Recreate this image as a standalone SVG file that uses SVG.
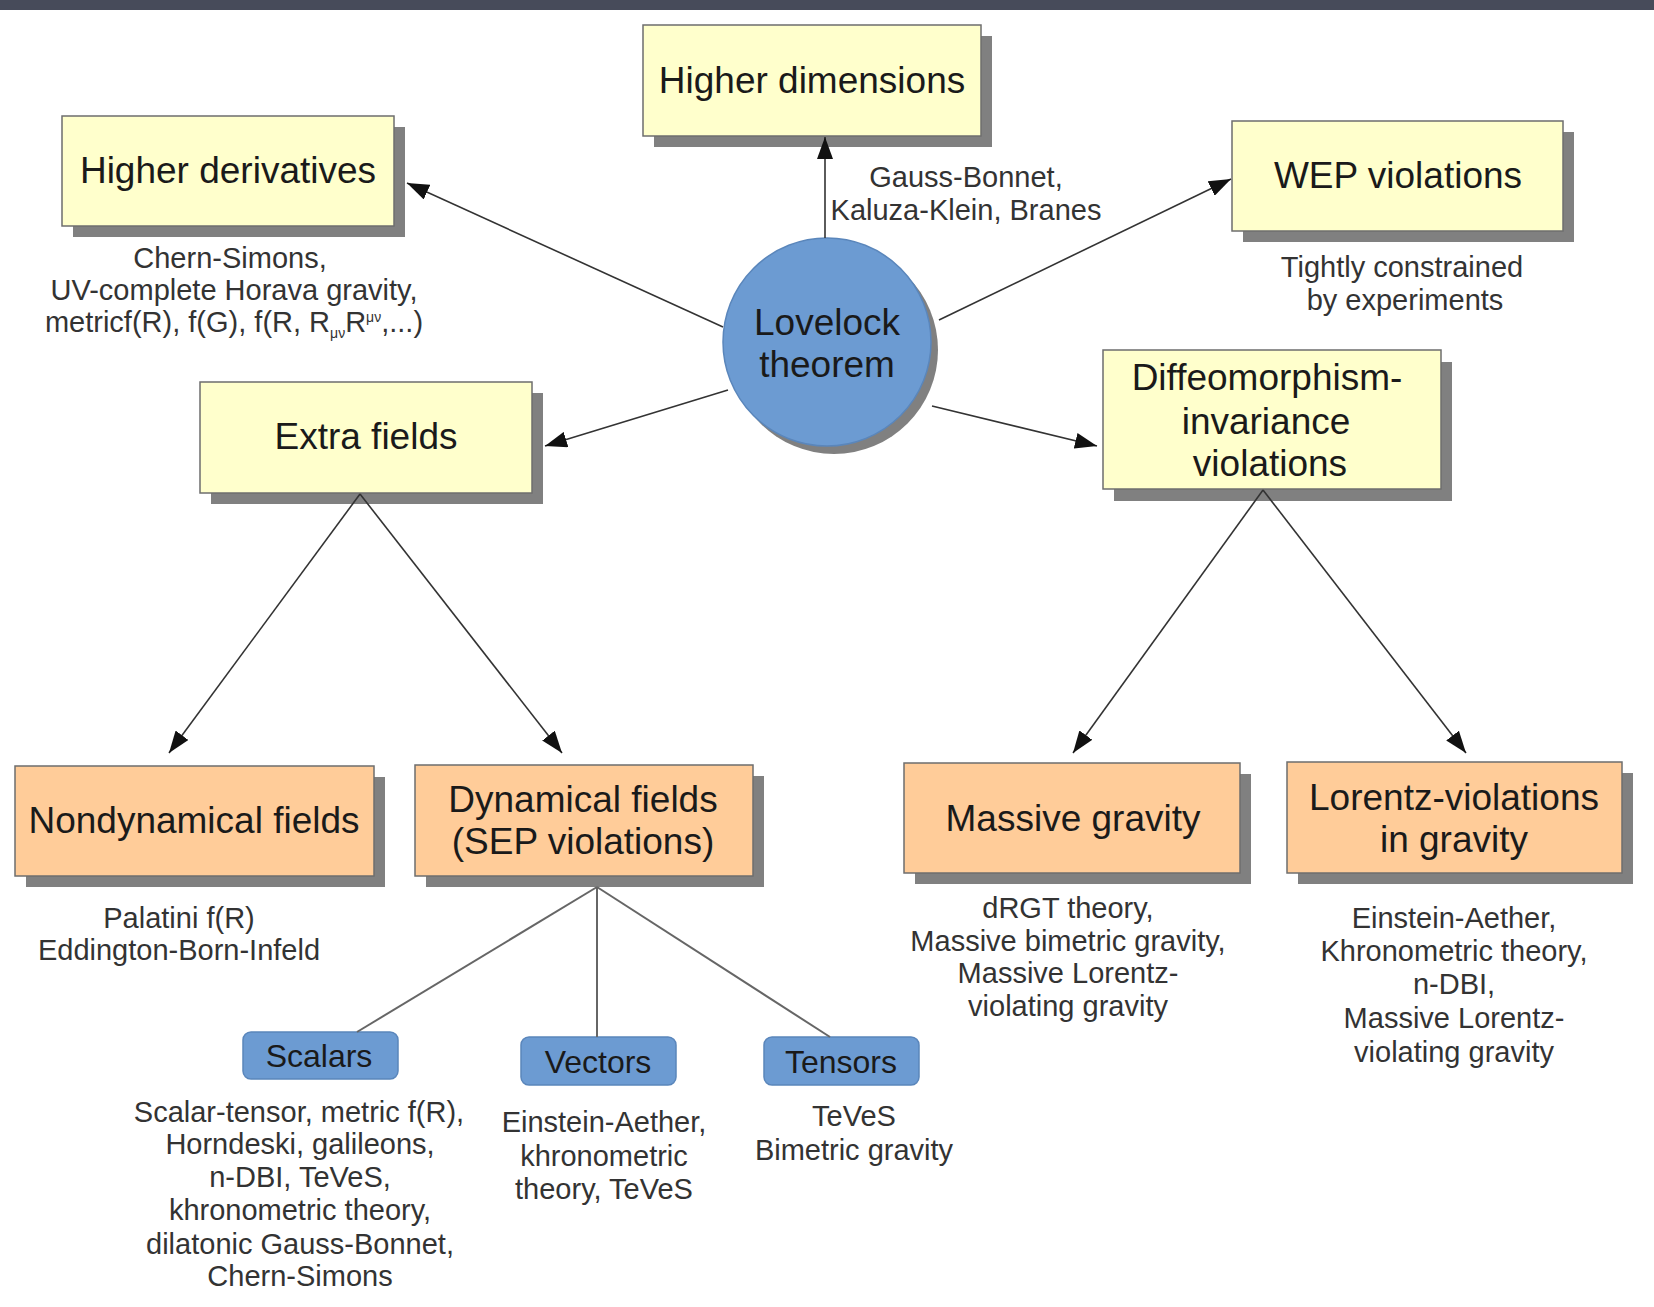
<svg xmlns="http://www.w3.org/2000/svg" width="1654" height="1307" viewBox="0 0 1654 1307">
<defs>
<marker id="arr" markerUnits="userSpaceOnUse" markerWidth="24" markerHeight="16" refX="22" refY="8" orient="auto">
<path d="M0,0 L22,8 L0,16 Z" fill="#111"/>
</marker>
<style>
.shadow{fill:#808080}
.yel{fill:#ffffcc;stroke:#6e6e6e;stroke-width:1.5}
.org{fill:#ffcc99;stroke:#6e6e6e;stroke-width:1.5}
.blu{fill:#6c9bd2;stroke:#5a86bb;stroke-width:1.5}
.lbl{font-family:"Liberation Sans",Arial,sans-serif;font-size:37px;fill:#1a1a1a;text-anchor:middle}
.sm{font-family:"Liberation Sans",Arial,sans-serif;font-size:32px;fill:#1a1a1a;text-anchor:middle}
.sub{font-family:"Liberation Sans",Arial,sans-serif;font-size:29px;fill:#333;text-anchor:middle}
.arrow{stroke:#333;stroke-width:1.6;fill:none;marker-end:url(#arr)}
.plain{stroke:#666;stroke-width:2;fill:none}
</style>
</defs>
<rect x="0" y="0" width="1654" height="1307" fill="#ffffff"/>
<rect x="0" y="0" width="1654" height="10" fill="#474b5a"/>

<g id="lovelock">
<circle cx="834" cy="350" r="104" class="shadow"/>
<circle cx="827" cy="342" r="104" class="blu"/>
<text class="lbl" x="827" y="335">Lovelock</text>
<text class="lbl" x="827" y="377">theorem</text>
</g>

<g id="higher-dimensions">
<rect x="654" y="36" width="338" height="111" class="shadow"/>
<rect x="643" y="25" width="338" height="111" class="yel"/>
<text class="lbl" x="812" y="93">Higher dimensions</text>
<text class="sub" x="966" y="187">Gauss-Bonnet,</text>
<text class="sub" x="966" y="220">Kaluza-Klein, Branes</text>
</g>

<g id="higher-derivatives">
<rect x="73" y="127" width="332" height="110" class="shadow"/>
<rect x="62" y="116" width="332" height="110" class="yel"/>
<text class="lbl" x="228" y="183">Higher derivatives</text>
<text class="sub" x="230" y="268">Chern-Simons,</text>
<text class="sub" x="234" y="300">UV-complete Horava gravity,</text>
<text class="sub" x="234" y="332">metricf(R), f(G), f(R, R<tspan font-size="14" dy="6">μν</tspan><tspan dy="-6">R</tspan><tspan font-size="14" dy="-10">μν</tspan><tspan dy="10">,...)</tspan></text>
</g>

<g id="wep">
<rect x="1243" y="132" width="331" height="110" class="shadow"/>
<rect x="1232" y="121" width="331" height="110" class="yel"/>
<text class="lbl" x="1398" y="188">WEP violations</text>
<text class="sub" x="1402" y="277">Tightly constrained</text>
<text class="sub" x="1405" y="310">by experiments</text>
</g>

<g id="extra-fields">
<rect x="211" y="393" width="332" height="111" class="shadow"/>
<rect x="200" y="382" width="332" height="111" class="yel"/>
<text class="lbl" x="366" y="449">Extra fields</text>
</g>

<g id="diffeomorphism">
<rect x="1114" y="362" width="338" height="139" class="shadow"/>
<rect x="1103" y="350" width="338" height="139" class="yel"/>
<text class="lbl" x="1267" y="390">Diffeomorphism-</text>
<text class="lbl" x="1266" y="434">invariance</text>
<text class="lbl" x="1270" y="476">violations</text>
</g>

<g id="nondynamical">
<rect x="26" y="777" width="359" height="110" class="shadow"/>
<rect x="15" y="766" width="359" height="110" class="org"/>
<text class="lbl" x="194" y="833">Nondynamical fields</text>
<text class="sub" x="179" y="928">Palatini f(R)</text>
<text class="sub" x="179" y="960">Eddington-Born-Infeld</text>
</g>

<g id="dynamical">
<rect x="426" y="776" width="338" height="111" class="shadow"/>
<rect x="415" y="765" width="338" height="111" class="org"/>
<text class="lbl" x="583" y="812">Dynamical fields</text>
<text class="lbl" x="583" y="854">(SEP violations)</text>
</g>

<g id="massive">
<rect x="915" y="774" width="336" height="110" class="shadow"/>
<rect x="904" y="763" width="336" height="110" class="org"/>
<text class="lbl" x="1073" y="831">Massive gravity</text>
<text class="sub" x="1068" y="918">dRGT theory,</text>
<text class="sub" x="1068" y="951">Massive bimetric gravity,</text>
<text class="sub" x="1068" y="983">Massive Lorentz-</text>
<text class="sub" x="1068" y="1016">violating gravity</text>
</g>

<g id="lorentz">
<rect x="1298" y="773" width="335" height="111" class="shadow"/>
<rect x="1287" y="762" width="335" height="111" class="org"/>
<text class="lbl" x="1454" y="810">Lorentz-violations</text>
<text class="lbl" x="1454" y="852">in gravity</text>
<text class="sub" x="1454" y="928">Einstein-Aether,</text>
<text class="sub" x="1454" y="961">Khronometric theory,</text>
<text class="sub" x="1454" y="994">n-DBI,</text>
<text class="sub" x="1454" y="1028">Massive Lorentz-</text>
<text class="sub" x="1454" y="1062">violating gravity</text>
</g>

<g id="scalars">
<rect x="243" y="1032" width="155" height="47" rx="8" class="blu"/>
<text class="sm" x="319" y="1067">Scalars</text>
<text class="sub" x="299" y="1122">Scalar-tensor, metric f(R),</text>
<text class="sub" x="300" y="1154">Horndeski, galileons,</text>
<text class="sub" x="300" y="1187">n-DBI, TeVeS,</text>
<text class="sub" x="300" y="1220">khronometric theory,</text>
<text class="sub" x="300" y="1254">dilatonic Gauss-Bonnet,</text>
<text class="sub" x="300" y="1286">Chern-Simons</text>
</g>

<g id="vectors">
<rect x="521" y="1037" width="155" height="48" rx="8" class="blu"/>
<text class="sm" x="598" y="1073">Vectors</text>
<text class="sub" x="604" y="1132">Einstein-Aether,</text>
<text class="sub" x="604" y="1166">khronometric</text>
<text class="sub" x="604" y="1199">theory, TeVeS</text>
</g>

<g id="tensors">
<rect x="764" y="1037" width="155" height="48" rx="8" class="blu"/>
<text class="sm" x="841" y="1073">Tensors</text>
<text class="sub" x="854" y="1126">TeVeS</text>
<text class="sub" x="854" y="1160">Bimetric gravity</text>
</g>

<g id="connectors">
<line class="arrow" x1="825" y1="238" x2="825" y2="137"/>
<line class="arrow" x1="723" y1="327" x2="407" y2="183"/>
<line class="arrow" x1="939" y1="320" x2="1231" y2="179"/>
<line class="arrow" x1="728" y1="390" x2="545" y2="446"/>
<line class="arrow" x1="932" y1="406" x2="1097" y2="446"/>
<line class="arrow" x1="360" y1="494" x2="169" y2="753"/>
<line class="arrow" x1="360" y1="494" x2="562" y2="753"/>
<line class="arrow" x1="1263" y1="490" x2="1073" y2="753"/>
<line class="arrow" x1="1263" y1="490" x2="1466" y2="753"/>
<line class="plain" x1="597" y1="887" x2="357" y2="1032"/>
<line class="plain" x1="597" y1="887" x2="597" y2="1037"/>
<line class="plain" x1="597" y1="887" x2="830" y2="1037"/>
</g>
</svg>
